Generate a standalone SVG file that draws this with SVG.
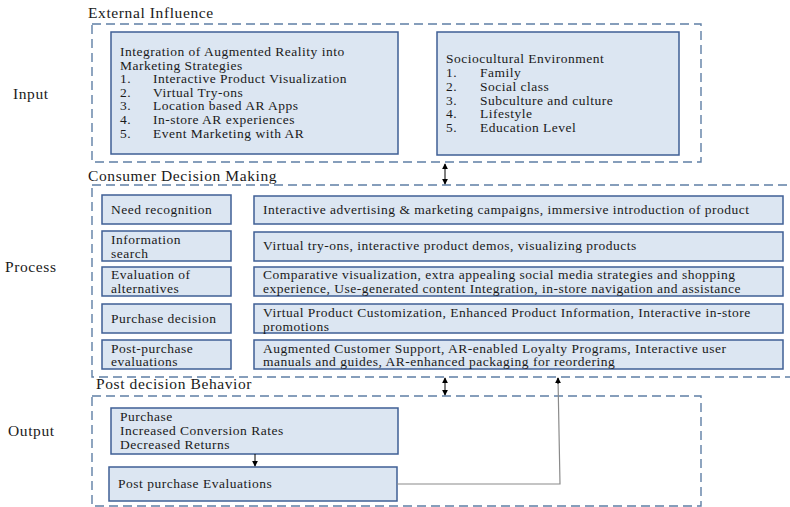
<svg xmlns="http://www.w3.org/2000/svg" width="790" height="507" viewBox="0 0 790 507">
<defs>
<style>
text{font-family:"Liberation Serif","Times New Roman",serif;font-size:13.5px;letter-spacing:0.5px;fill:#1a1a1a}
.lbl{font-size:15.5px;letter-spacing:0.6px}
.box{fill:#dce6f2;stroke:#3f5f95;stroke-width:1.5}
.dash{fill:none;stroke:#5f7fa5;stroke-width:1.4;stroke-dasharray:9 5}
.con{fill:none;stroke:#000;stroke-width:1}
.gcon{fill:none;stroke:#8a8a8a;stroke-width:1.2}
</style>
<marker id="ah" viewBox="0 0 8 8" refX="7" refY="4" markerWidth="6" markerHeight="6" orient="auto-start-reverse">
<path d="M0,0 L8,4 L0,8 z" fill="#000"/>
</marker>
</defs>
<rect width="790" height="507" fill="#fff"/>

<g id="side-labels">
<text class="lbl" x="13" y="99">Input</text>
<text class="lbl" x="5" y="272">Process</text>
<text class="lbl" x="8" y="436">Output</text>
</g>

<g id="external-influence">
<text class="lbl" x="88" y="18">External Influence</text>
<rect class="dash" x="92" y="24" width="609" height="138"/>
</g>

<g id="ar-integration">
<rect class="box" x="111" y="32" width="287" height="122"/>
<text x="120" y="56">Integration of Augmented Reality into</text>
<text x="120" y="70">Marketing Strategies</text>
<text x="120" y="83">1.</text><text x="153" y="83">Interactive Product Visualization</text>
<text x="120" y="97">2.</text><text x="153" y="97">Virtual Try-ons</text>
<text x="120" y="110">3.</text><text x="153" y="110">Location based AR Apps</text>
<text x="120" y="124">4.</text><text x="153" y="124">In-store AR experiences</text>
<text x="120" y="138">5.</text><text x="153" y="138">Event Marketing with AR</text>
</g>

<g id="sociocultural">
<rect class="box" x="437" y="32" width="242" height="123"/>
<text x="446" y="63">Sociocultural Environment</text>
<text x="446" y="77">1.</text><text x="480" y="77">Family</text>
<text x="446" y="91">2.</text><text x="480" y="91">Social class</text>
<text x="446" y="105">3.</text><text x="480" y="105">Subculture and culture</text>
<text x="446" y="118">4.</text><text x="480" y="118">Lifestyle</text>
<text x="446" y="132">5.</text><text x="480" y="132">Education Level</text>
</g>

<g id="consumer-decision-making">
<text class="lbl" x="88" y="181">Consumer Decision Making</text>
<rect class="dash" x="92" y="185" width="710" height="192"/>
</g>

<g id="need-recognition">
<rect class="box" x="102" y="195" width="129" height="29"/>
<text x="111" y="214">Need recognition</text>
<rect class="box" x="254" y="196" width="529" height="28"/>
<text x="263" y="214">Interactive advertising &amp; marketing campaigns, immersive introduction of product</text>
</g>

<g id="information-search">
<rect class="box" x="102" y="231" width="129" height="30"/>
<text x="111" y="244">Information</text>
<text x="111" y="258">search</text>
<rect class="box" x="254" y="232" width="529" height="29"/>
<text x="263" y="250">Virtual try-ons, interactive product demos, visualizing products</text>
</g>

<g id="evaluation">
<rect class="box" x="102" y="267" width="129" height="29"/>
<text x="111" y="279">Evaluation of</text>
<text x="111" y="293">alternatives</text>
<rect class="box" x="254" y="267" width="529" height="29"/>
<text x="263" y="279">Comparative visualization, extra appealing social media strategies and shopping</text>
<text x="263" y="293">experience, Use-generated content Integration, in-store navigation and assistance</text>
</g>

<g id="purchase-decision">
<rect class="box" x="102" y="304" width="129" height="29"/>
<text x="111" y="323">Purchase decision</text>
<rect class="box" x="254" y="304" width="529" height="29"/>
<text x="263" y="317">Virtual Product Customization, Enhanced Product Information, Interactive in-store</text>
<text x="263" y="331">promotions</text>
</g>

<g id="post-purchase">
<rect class="box" x="102" y="340" width="129" height="29"/>
<text x="111" y="353">Post-purchase</text>
<text x="111" y="366">evaluations</text>
<rect class="box" x="254" y="340" width="529" height="29"/>
<text x="263" y="353">Augmented Customer Support, AR-enabled Loyalty Programs, Interactive user</text>
<text x="263" y="366">manuals and guides, AR-enhanced packaging for reordering</text>
</g>

<g id="post-decision-behavior">
<text class="lbl" x="96" y="389">Post decision Behavior</text>
<rect class="dash" x="92" y="396" width="609" height="110"/>
</g>

<g id="purchase">
<rect class="box" x="111" y="408" width="287" height="46"/>
<text x="120" y="421">Purchase</text>
<text x="120" y="435">Increased Conversion Rates</text>
<text x="120" y="449">Decreased Returns</text>
</g>

<g id="post-purchase-evaluations">
<rect class="box" x="109" y="467" width="288" height="34"/>
<text x="118" y="488">Post purchase Evaluations</text>
</g>

<g id="connectors">
<line class="con" x1="445" y1="164" x2="445" y2="184" marker-start="url(#ah)" marker-end="url(#ah)"/>
<line class="con" x1="445" y1="378" x2="445" y2="395" marker-start="url(#ah)" marker-end="url(#ah)"/>
<line class="con" x1="255" y1="454" x2="255" y2="466" marker-end="url(#ah)"/>
<polyline class="gcon" points="397,484 560,484 558,378"/>
<line class="con" x1="558" y1="384" x2="558" y2="378" marker-end="url(#ah)"/>
</g>
</svg>
